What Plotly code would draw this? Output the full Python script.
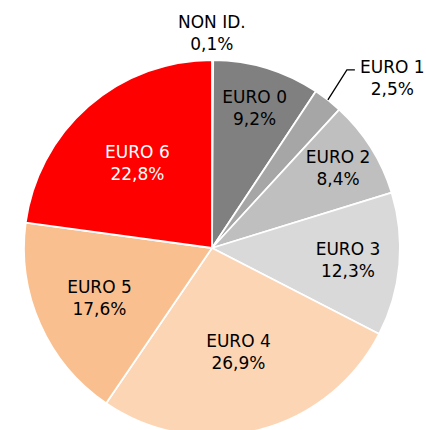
import math
import plotly.graph_objects as go

labels = ["NON ID.", "EURO 0", "EURO 1", "EURO 2", "EURO 3", "EURO 4", "EURO 5", "EURO 6"]
values = [0.1, 9.2, 2.5, 8.4, 12.3, 26.9, 17.6, 22.8]
value_text = ["0,1%", "9,2%", "2,5%", "8,4%", "12,3%", "26,9%", "17,6%", "22,8%"]
colors = ["#ffffff", "#808080", "#a6a6a6", "#bfbfbf", "#d9d9d9", "#fcd5b5", "#f9bf8f", "#ff0000"]
text_colors = ["#000000"] * 7 + ["#ffffff"]
outside = [True, False, True, False, False, False, False, False]

FONT = "DejaVu Sans"
FS = 17
W, H = 426, 436
ML, MR, MT, MB = 0, 2, 60, 0
PW, PH = W - ML - MR, H - MT - MB
R = min(PW, PH) / 2
CX, CY = ML + PW / 2, MT + PH / 2


def px_to_paper(px, py):
    return (px - ML) / PW, 1 - (py - MT) / PH


texts = [("" if o else f"{l}<br>{v}") for l, v, o in zip(labels, value_text, outside)]

fig = go.Figure(go.Pie(
    labels=labels,
    values=values,
    text=texts,
    textinfo="text",
    textposition="inside",
    insidetextorientation="horizontal",
    sort=False,
    direction="clockwise",
    rotation=0,
    domain=dict(x=[0, 1], y=[0, 1]),
    marker=dict(colors=colors, line=dict(color="#ffffff", width=1.8)),
    textfont=dict(family=FONT, size=FS, color=text_colors),
    hoverinfo="skip",
    showlegend=False,
))

# outside labels
total = sum(values)
cum = 0.0
annotations = []
shapes = []
for l, v, vt, o in zip(labels, values, value_text, outside):
    mid = (cum + v / 2) / total * 2 * math.pi
    cum += v
    if not o:
        continue
    ex, ey = CX + R * math.sin(mid), CY - R * math.cos(mid)
    if l == "NON ID.":
        tx, ty = px_to_paper(CX, 33)
        annotations.append(dict(x=tx, y=ty, xref="paper", yref="paper",
                                text=f"{l}<br>{vt}", showarrow=False,
                                xanchor="center", yanchor="middle",
                                font=dict(family=FONT, size=FS, color="#000000")))
    else:
        # leader line from slice edge, up-right, then horizontal
        p0 = px_to_paper(ex, ey)
        p1 = px_to_paper(ex + 19, ey - 30)
        p2 = px_to_paper(ex + 27, ey - 30)
        shapes.append(dict(type="path", xref="paper", yref="paper",
                           path=f"M {p0[0]},{p0[1]} L {p1[0]},{p1[1]} L {p2[0]},{p2[1]}",
                           line=dict(color="#000000", width=1.3)))
        tx, ty = px_to_paper(ex + 65, ey - 22)
        annotations.append(dict(x=tx, y=ty, xref="paper", yref="paper",
                                text=f"{l}<br>{vt}", showarrow=False,
                                xanchor="center", yanchor="middle",
                                font=dict(family=FONT, size=FS, color="#000000")))

fig.update_layout(
    width=W, height=H,
    margin=dict(l=ML, r=MR, t=MT, b=MB),
    paper_bgcolor="#ffffff",
    plot_bgcolor="#ffffff",
    annotations=annotations,
    shapes=shapes,
)

fig.write_html("out.html",
               config={"displayModeBar": False},
               post_script="document.body.style.margin='0';document.body.style.overflow='hidden';")
